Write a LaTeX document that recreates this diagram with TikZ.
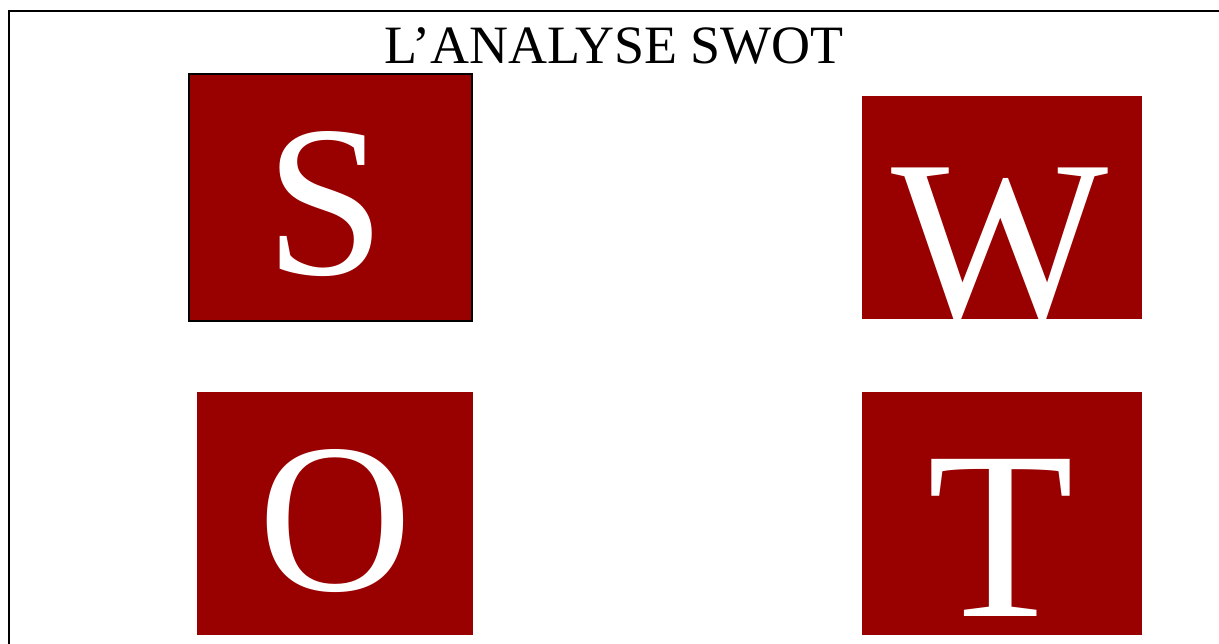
\documentclass[tikz,border=0pt]{standalone}
\usepackage{fontspec}
\setmainfont{Liberation Serif}
\definecolor{swotred}{RGB}{153,0,0}
\tikzset{
  box/.style={fill=swotred, draw=none},
  letter/.style={text=white, inner sep=0pt, anchor=base},
}
\begin{document}
\begin{tikzpicture}[x=1pt,y=-1pt]
\useasboundingbox (0,0) rectangle (1219,643);
\clip (0,0) rectangle (1219,643);
% outer frame (extends past right and bottom edges)
\draw[line width=2.2pt] (9.3,11) rectangle (1240,660);
% title
\node[inner sep=0pt, anchor=base] (title) at (614,63.3) {\fontsize{54}{60}\selectfont L’ANALYSE SWOT};
% boxes
\path[box, draw=black, line width=1.5pt] (189,74) rectangle (472,321);
\path[box] (862,96) rectangle (1142,319);
\path[box] (197,392) rectangle (473,635);
\path[box] (862,392) rectangle (1142,635);
% letters
\node[letter] (S) at (326,274) {\fontsize{216}{220}\selectfont S};
\node[letter] (W) at (1000,318) {\fontsize{230}{232}\selectfont W};
\node[letter] (O) at (335,590.5) {\fontsize{213}{220}\selectfont O};
\node[letter] (T) at (1001,616) {\fontsize{240}{240}\selectfont T};
\end{tikzpicture}
\end{document}
